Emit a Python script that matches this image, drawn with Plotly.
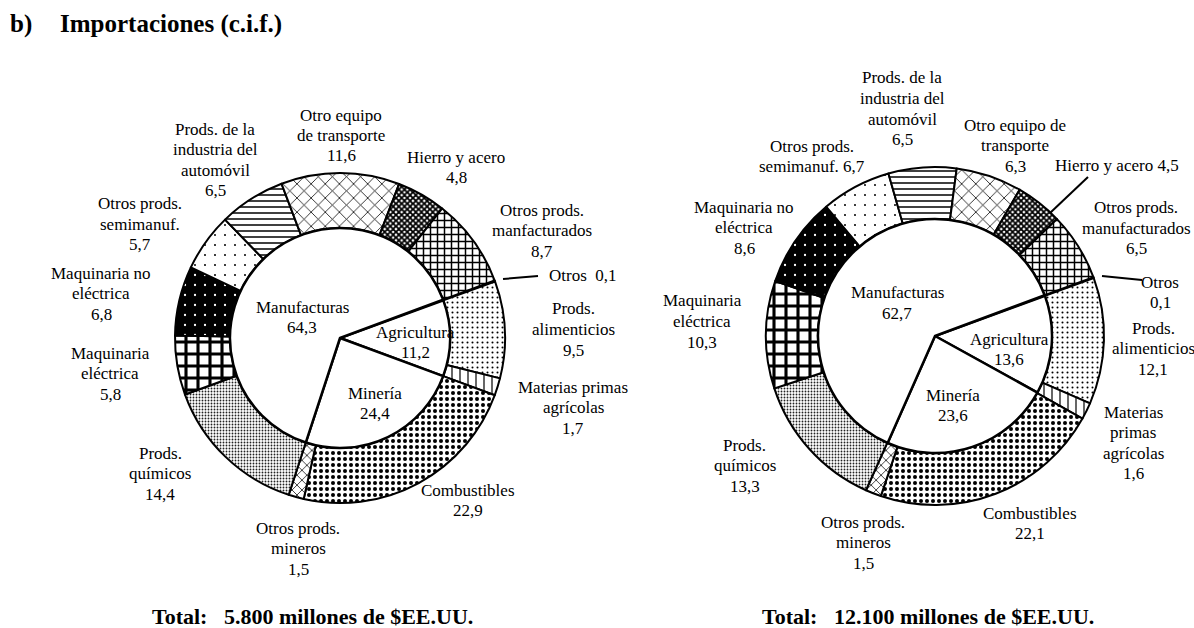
import plotly.graph_objects as go

W, H = 1194, 628
FONT = "Liberation Serif, Times New Roman, serif"

# ---------------- data ----------------
categories = ["Otros", "Prods. alimenticios", "Materias primas agrícolas", "Combustibles",
              "Otros prods. mineros", "Prods. químicos", "Maquinaria eléctrica",
              "Maquinaria no eléctrica", "Otros prods. semimanuf.",
              "Prods. de la industria del automóvil", "Otro equipo de transporte",
              "Hierro y acero", "Otros prods. manufacturados"]
values_left = [0.1, 9.5, 1.7, 22.9, 1.5, 14.4, 5.8, 6.8, 5.7, 6.5, 11.6, 4.8, 8.7]
values_right = [0.1, 12.1, 1.6, 22.1, 1.5, 13.3, 10.3, 8.6, 6.7, 6.5, 6.3, 4.5, 6.5]

groups = ["Otros", "Agricultura", "Minería", "Manufacturas"]
groups_left = [0.1, 11.2, 24.4, 64.3]
groups_right = [0.1, 13.6, 23.6, 62.7]

totals = ["5.800", "12.100"]

# label text templates ("|" = line break)
tpl_left = ["Otros\u00a0\u00a0{v}", "Prods.|alimenticios|{v}", "Materias primas|agrícolas|{v}",
            "Combustibles|{v}", "Otros prods.|mineros|{v}", "Prods.|químicos|{v}",
            "Maquinaria|eléctrica|{v}", "Maquinaria no|eléctrica|{v}", "Otros prods.|semimanuf.|{v}",
            "Prods. de la|industria del|automóvil|{v}", "Otro equipo|de transporte|{v}",
            "Hierro y acero|{v}", "Otros prods.|manfacturados|{v}"]
tpl_right = ["Otros|{v}", "Prods.|alimenticios|{v}", "Materias|primas|agrícolas|{v}",
             "Combustibles|{v}", "Otros prods.|mineros|{v}", "Prods.|químicos|{v}",
             "Maquinaria|eléctrica|{v}", "Maquinaria no|eléctrica|{v}", "Otros prods.|semimanuf. {v}",
             "Prods. de la|industria del|automóvil|{v}", "Otro equipo de|transporte|{v}",
             "Hierro y acero {v}", "Otros prods.|manufacturados|{v}"]

# ---------------- styles / layout ----------------
pat_shape = ["", ".", "|", ".", "x", ".", "+", ".", ".", "-", "x", "x", "+"]
pat_fg = ["black", "black", "black", "black", "black", "#222", "black", "white", "black",
          "black", "black", "black", "black"]
pat_bg = ["white"] * 7 + ["black"] + ["white"] * 5
pat_size = [8, 5, 8, 6, 7, 3, 12, 10, 10, 6, 10, 4, 7]
pat_sol = [0.2, 0.13, 0.15, 0.35, 0.2, 0.3, 0.45, 0.04, 0.03, 0.25, 0.15, 0.7, 0.38]

charts = [
    dict(cx=340, cy=338, r=165, rin=110, rot=69.6, vals=values_left, grp=groups_left,
         tpl=tpl_left,
         pos=[(547, 275, "left"), (573, 309), (573, 387), (468, 490), (298, 528), (160, 453),
              (110, 353), (101, 273), (140, 204), (215, 129), (341, 115), (456, 157), (542, 210)],
         gpos=[None, (415, 332), (375, 393), (302, 307)],
         lines=[((503, 279), (538, 276))],
         total=(312, 616)),
    dict(cx=935, cy=336, r=169, rin=117, rot=69.6, vals=values_right, grp=groups_right,
         tpl=tpl_right,
         pos=[(1160, 282), (1153, 328), (1133, 412), (1030, 513), (863, 522), (745, 445),
              (702, 301), (744, 207), (812, 146), (902, 78), (1015, 125), (1117, 165), (1136, 208)],
         gpos=[None, (1009, 339), (953, 395), (897, 293)],
         lines=[((1102, 276), (1142, 280)), ((1050, 213), (1088, 177))],
         total=(928, 616)),
]


def fmt(v):
    return f"{v:.1f}".replace(".", ",")


def dom(cx, cy, r):
    return dict(x=[(cx - r) / W, (cx + r) / W], y=[1 - (cy + r) / H, 1 - (cy - r) / H])


fig = go.Figure()
annotations = []
shapes = []
LS = 20.5


def add_label(text, x, y0, anchor="center", size=17):
    for i, t in enumerate(text.split("|")):
        annotations.append(dict(x=x / W, y=1 - (y0 + i * LS) / H, xref="paper", yref="paper",
                                text=t, showarrow=False, xanchor=anchor, yanchor="middle",
                                font=dict(family=FONT, size=size, color="black")))


for ci, c in enumerate(charts):
    fig.add_trace(go.Pie(
        labels=categories, values=c["vals"], sort=False, direction="clockwise",
        rotation=c["rot"], hole=c["rin"] / c["r"], textinfo="none", hoverinfo="skip",
        showlegend=False, domain=dom(c["cx"], c["cy"], c["r"]),
        marker=dict(colors=pat_bg, line=dict(color="black", width=2),
                    pattern=dict(shape=pat_shape, fgcolor=pat_fg, bgcolor=pat_bg,
                                 size=pat_size, solidity=pat_sol, fillmode="replace")),
    ))
    fig.add_trace(go.Pie(
        labels=groups, values=c["grp"], sort=False, direction="clockwise",
        rotation=c["rot"], textinfo="none", hoverinfo="skip", showlegend=False,
        domain=dom(c["cx"], c["cy"], c["rin"]),
        marker=dict(colors=["white"] * len(groups), line=dict(color="black", width=2.5)),
    ))
    for i, p in enumerate(c["pos"]):
        anchor = p[2] if len(p) > 2 else "center"
        add_label(c["tpl"][i].format(v=fmt(c["vals"][i])), p[0], p[1], anchor)
    for gi, gp in enumerate(c["gpos"]):
        if gp is None:
            continue
        add_label(f"{groups[gi]}|{fmt(c['grp'][gi])}", gp[0], gp[1])
    for (x0, y0), (x1, y1) in c["lines"]:
        shapes.append(dict(type="line", xref="paper", yref="paper",
                           x0=x0 / W, y0=1 - y0 / H, x1=x1 / W, y1=1 - y1 / H,
                           line=dict(color="black", width=2)))
    tx, ty = c["total"]
    annotations.append(dict(x=tx / W, y=1 - ty / H, xref="paper", yref="paper",
                            text=f"<b>Total:\u00a0\u00a0 {totals[ci]} millones de $EE.UU.</b>",
                            showarrow=False, xanchor="center", yanchor="middle",
                            font=dict(family=FONT, size=22, color="black")))

annotations.append(dict(x=8 / W, y=1 - 24 / H, xref="paper", yref="paper", text="<b>b)</b>",
                        showarrow=False, xanchor="left", yanchor="middle",
                        font=dict(family=FONT, size=25, color="black")))
annotations.append(dict(x=58 / W, y=1 - 24 / H, xref="paper", yref="paper",
                        text="<b>Importaciones (c.i.f.)</b>",
                        showarrow=False, xanchor="left", yanchor="middle",
                        font=dict(family=FONT, size=25, color="black")))

fig.update_layout(width=W, height=H, margin=dict(l=0, r=0, t=0, b=0),
                  paper_bgcolor="white", plot_bgcolor="white",
                  annotations=annotations, shapes=shapes)

fig.write_html("out.html", config={"displayModeBar": False},
               post_script="document.body.style.margin='0';document.body.style.overflow='hidden';")
